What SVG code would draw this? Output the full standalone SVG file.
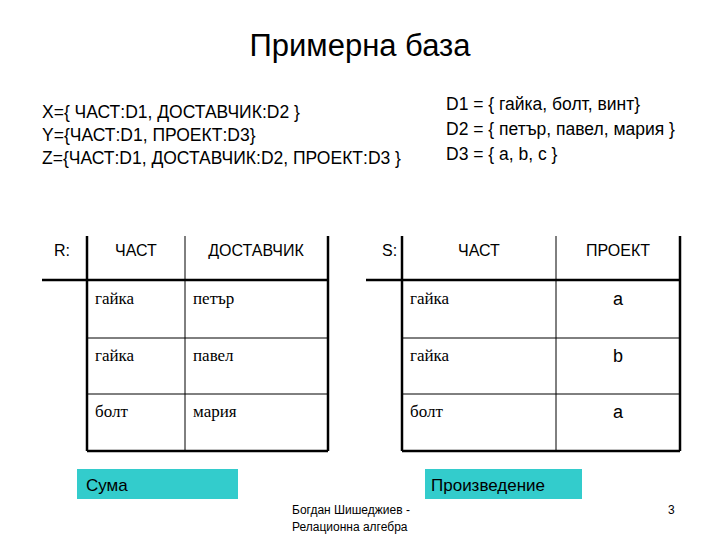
<svg xmlns="http://www.w3.org/2000/svg" width="720" height="540" viewBox="0 0 720 540">
<style>
.s{font-family:"Liberation Sans",Arial,sans-serif;fill:#000}
.t{font-family:"Liberation Serif","Times New Roman",serif;font-size:17px;fill:#000}
.h{font-size:16px}
line{stroke:#000}
.b{stroke-width:2.5}
.n{stroke-width:1}
</style>
<rect width="720" height="540" fill="#fff"/>
<text class="s" x="360" y="56" font-size="31" text-anchor="middle">Примерна база</text>
<g id="defs-text" class="s" font-size="17.5">
<text x="42" y="118">X={ ЧАСТ:D1, ДОСТАВЧИК:D2 }</text>
<text x="42" y="141">Y={ЧАСТ:D1, ПРОЕКТ:D3}</text>
<text x="42" y="164">Z={ЧАСТ:D1, ДОСТАВЧИК:D2, ПРОЕКТ:D3 }</text>
<text x="446" y="110">D1 = { гайка, болт, винт}</text>
<text x="446" y="135">D2 = { петър, павел, мария }</text>
<text x="446" y="160">D3 = { a, b, c }</text>
</g>
<g id="tableR">
<line class="b" x1="87" y1="236" x2="87" y2="451"/>
<line class="b" x1="328" y1="236" x2="328" y2="451"/>
<line class="b" x1="87" y1="451" x2="328" y2="451"/>
<line class="b" x1="42" y1="280" x2="328" y2="280"/>
<line class="n" x1="185" y1="236" x2="185" y2="451"/>
<line class="n" x1="87" y1="338" x2="328" y2="338"/>
<line class="n" x1="87" y1="394" x2="328" y2="394"/>
<text class="s h" x="54" y="256">R:</text>
<text class="s h" x="136" y="256" text-anchor="middle">ЧАСТ</text>
<text class="s h" x="256" y="256" text-anchor="middle">ДОСТАВЧИК</text>
<text class="t" x="95" y="304">гайка</text><text class="t" x="193" y="304">петър</text>
<text class="t" x="95" y="361">гайка</text><text class="t" x="193" y="361">павел</text>
<text class="t" x="95" y="417">болт</text><text class="t" x="193" y="417">мария</text>
</g>
<g id="tableS">
<line class="b" x1="402" y1="236" x2="402" y2="451"/>
<line class="b" x1="680" y1="236" x2="680" y2="451"/>
<line class="b" x1="402" y1="451" x2="680" y2="451"/>
<line class="b" x1="366" y1="280" x2="680" y2="280"/>
<line class="n" x1="556" y1="236" x2="556" y2="451"/>
<line class="n" x1="402" y1="338" x2="680" y2="338"/>
<line class="n" x1="402" y1="394" x2="680" y2="394"/>
<text class="s h" x="382" y="256">S:</text>
<text class="s h" x="479" y="256" text-anchor="middle">ЧАСТ</text>
<text class="s h" x="618" y="256" text-anchor="middle">ПРОЕКТ</text>
<text class="t" x="410" y="304">гайка</text><text class="s" font-size="18" x="618" y="305" text-anchor="middle">a</text>
<text class="t" x="410" y="361">гайка</text><text class="s" font-size="18" x="618" y="362" text-anchor="middle">b</text>
<text class="t" x="410" y="417">болт</text><text class="s" font-size="18" x="618" y="418" text-anchor="middle">a</text>
</g>
<g id="suma"><rect x="77" y="469" width="161" height="30" fill="#33cccc"/><text class="s" font-size="17" x="86" y="491">Сума</text></g>
<g id="proizv"><rect x="425" y="469" width="157" height="30" fill="#33cccc"/><text class="s" font-size="17" x="431" y="491">Произведение</text></g>
<g class="s" font-size="12">
<text x="292" y="514">Богдан Шишеджиев -</text>
<text x="292" y="531">Релационна алгебра</text>
<text x="668" y="514">3</text>
</g>
</svg>
